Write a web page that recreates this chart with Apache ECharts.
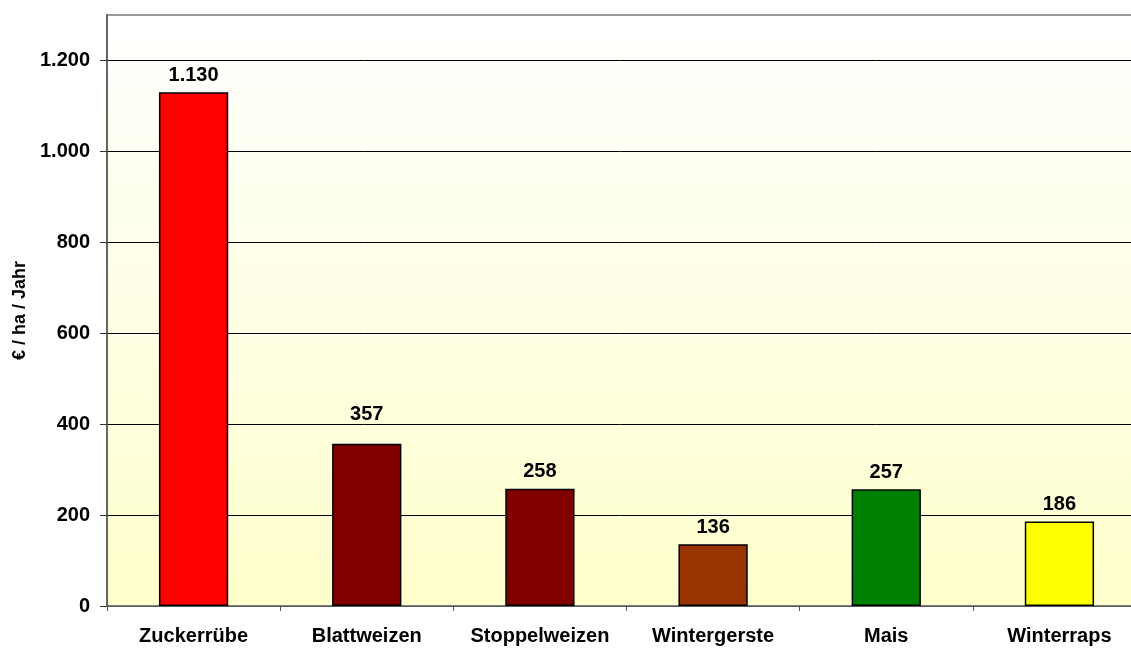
<!DOCTYPE html>
<html>
<head>
<meta charset="utf-8">
<script src="https://cdn.jsdelivr.net/npm/echarts@6/dist/echarts.min.js"></script>
<style>
  html, body { margin: 0; padding: 0; background: #ffffff; }
  #chart { width: 1131px; height: 648px; }
</style>
</head>
<body>
<div id="chart"></div>
<script>
// Kulturarten und Werte (€ / ha / Jahr)
var categories = ['Zuckerrübe', 'Blattweizen', 'Stoppelweizen', 'Wintergerste', 'Mais', 'Winterraps'];
var values = [1130, 357, 258, 136, 257, 186];
var barColors = ['#FF0000', '#800000', '#800000', '#993300', '#008000', '#FFFF00'];
var yTicks = [0, 200, 400, 600, 800, 1000, 1200];

var FONT = '"Liberation Sans Narrow", "Liberation Sans", Arial, sans-serif';

function fmt(v) {
  return String(v).replace(/\B(?=(\d{3})+(?!\d))/g, '.');
}

var chart = echarts.init(document.getElementById('chart'), null, { renderer: 'canvas' });

var barData = values.map(function (v, i) {
  var item = {
    value: v,
    itemStyle: { color: barColors[i] }
  };
  if (categories[i] === 'Blattweizen') {
    item.label = { offset: [0, -12] };
  }
  return item;
});

chart.setOption({
  animation: false,
  backgroundColor: '#ffffff',
  grid: {
    left: 107,
    top: 15,
    width: 1039,
    bottom: 42,
    outerBoundsMode: 'none',
    containLabel: false,
    show: true,
    borderColor: '#999999',
    borderWidth: 2,
    backgroundColor: {
      type: 'linear', x: 0, y: 0, x2: 0, y2: 1,
      colorStops: [
        { offset: 0, color: '#FFFFFF' },
        { offset: 1, color: '#FFFFCC' }
      ]
    }
  },
  xAxis: {
    type: 'category',
    data: categories,
    axisLine: { show: true, lineStyle: { color: '#777777', width: 1.5 } },
    axisTick: { show: true, alignWithLabel: false, length: 5, lineStyle: { color: '#555555' } },
    axisLabel: {
      margin: 20,
      color: '#000000',
      fontFamily: FONT,
      fontWeight: 'bold',
      fontSize: 20,
      interval: 0
    },
    splitLine: { show: false }
  },
  yAxis: {
    type: 'value',
    min: 0,
    max: 1300,
    interval: 200,
    name: '€ / ha / Jahr',
    nameLocation: 'middle',
    nameGap: 71,
    nameRotate: 90,
    nameTextStyle: {
      color: '#000000',
      fontFamily: FONT,
      fontWeight: 'bold',
      fontSize: 18
    },
    axisLine: { show: true, lineStyle: { color: '#555555', width: 1.5 } },
    axisTick: { show: true, length: 7, lineStyle: { color: '#333333' } },
    axisLabel: {
      margin: 17,
      color: '#000000',
      fontFamily: FONT,
      fontWeight: 'bold',
      fontSize: 20,
      showMaxLabel: false,
      formatter: function (v) { return yTicks.indexOf(v) >= 0 ? fmt(v) : ''; }
    },
    splitLine: { show: true, showMaxLine: false, lineStyle: { color: '#000000', width: 1 } }
  },
  series: [{
    type: 'bar',
    data: barData,
    barWidth: '40%',
    itemStyle: { borderColor: '#000000', borderWidth: 1.5 },
    label: {
      show: true,
      position: 'top',
      distance: 7,
      color: '#000000',
      fontFamily: FONT,
      fontWeight: 'bold',
      fontSize: 20,
      formatter: function (p) { return fmt(p.value); }
    }
  }]
});
</script>
</body>
</html>
